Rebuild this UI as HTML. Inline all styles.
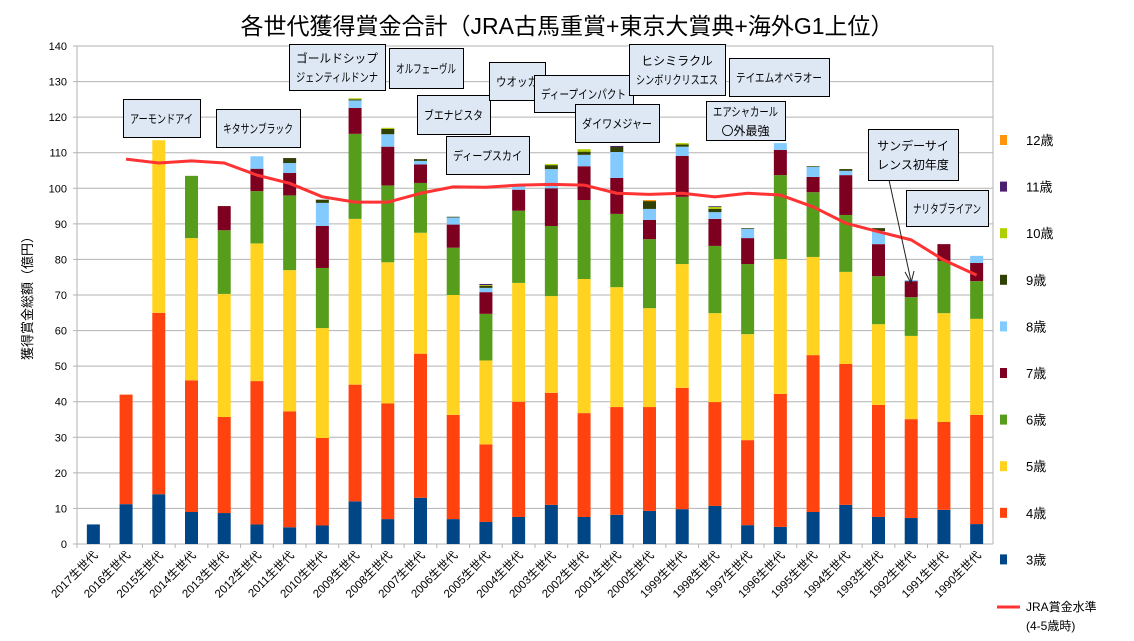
<!DOCTYPE html>
<html><head><meta charset="utf-8">
<style>
body{margin:0;background:#fff;}
svg{display:block;font-family:"Liberation Sans","Noto Sans CJK JP",sans-serif;}
</style></head>
<body>
<svg id="chart" width="1134" height="641" viewBox="0 0 1134 641">
<text x="567" y="34" font-size="23" text-anchor="middle" fill="#000">各世代獲得賞金合計（JRA古馬重賞+東京大賞典+海外G1上位）</text>
<text transform="translate(32,295) rotate(-90)" font-size="13" text-anchor="middle">獲得賞金総額（億円）</text>
<g id="grid"></g><g id="bars"></g><g id="line"></g><g id="xlabels"></g><g id="legend"></g><g id="notes"></g>
</svg>
<script>
const categories=["2017生世代","2016生世代","2015生世代","2014生世代","2013生世代","2012生世代","2011生世代","2010生世代","2009生世代","2008生世代","2007生世代","2006生世代","2005生世代","2004生世代","2003生世代","2002生世代","2001生世代","2000生世代","1999生世代","1998生世代","1997生世代","1996生世代","1995生世代","1994生世代","1993生世代","1992生世代","1991生世代","1990生世代"];
const seriesNames=["3歳","4歳","5歳","6歳","7歳","8歳","9歳","10歳","11歳","12歳"];
const seriesColors=["#004586","#ff420e","#ffd320","#579d1c","#7e0021","#83caff","#314004","#aecf00","#4b1f6f","#ff950e"];
const age3=[5.5,11.2,14,9,8.7,5.5,4.7,5.2,12,7,13,7,6.2,7.6,11,7.6,8.2,9.3,9.8,10.7,5.3,4.8,9,11,7.6,7.3,9.6,5.6];
const age4=[0,30.8,51,37,27,40.3,32.6,24.6,32.8,32.5,40.5,29.3,21.8,32.4,31.5,29.2,30.3,29.2,34.1,29.2,23.9,37.4,44.1,39.6,31.5,27.8,24.7,30.7];
const age5=[0,0,48.5,40,34.6,38.7,39.7,30.9,46.6,39.7,34,33.7,23.6,33.4,27.2,37.7,33.7,27.8,34.8,25,29.8,37.9,27.6,25.9,22.7,23.4,30.6,27];
const age6=[0,0,0,17.5,17.9,14.7,21,16.9,23.9,21.6,14,13.3,13.1,20.3,19.7,22.2,20.6,19.4,18.9,18.9,19.7,23.6,18.2,16,13.5,10.9,14.7,10.6];
const age7=[0,0,0,0,6.8,6.3,6.3,11.8,7.3,10.9,5.2,6.5,6.1,5.9,10.6,9.5,10.1,5.4,11.5,7.6,7.3,7.1,4.3,11.2,9,4.5,4.7,5.1];
const age8=[0,0,0,0,0,3.5,2.8,6.5,2.1,3.5,1,2,1.2,1,5.4,3.2,7.3,3.1,2.6,1.9,2.6,1.9,2.8,1.2,3.7,0.3,0,2];
const age9=[0,0,0,0,0,0,1.4,0.9,0.3,1.5,0.5,0.2,0.6,0.4,1.1,0.9,1.4,2.2,0.6,0.9,0.2,0,0.2,0.5,0.8,0,0,0];
const age10=[0,0,0,0,0,0,0,0,0.3,0.3,0,0,0.2,0,0.3,0.7,0,0,0.4,0.6,0,0,0,0,0,0,0,0];
const age11=[0,0,0,0,0,0,0,0,0,0,0,0,0.3,0,0,0,0.3,0,0,0.2,0,0,0,0,0,0,0,0];
const age12=[0,0,0,0,0,0,0,0,0,0,0,0,0,0,0,0,0,0.3,0,0,0,0,0,0,0,0,0,0];
const jraLevel=[null,108.2,107.1,107.7,107.1,103.7,101.4,97.6,96.1,96.1,98.6,100.4,100.3,100.9,101.1,100.9,98.6,98.3,98.6,97.6,98.6,98.1,94.8,90.2,87.8,85.5,79.8,75.6];
const yTicks=[0,10,20,30,40,50,60,70,80,90,100,110,120,130,140];

const series=[age3,age4,age5,age6,age7,age8,age9,age10,age11,age12];
const NS="http://www.w3.org/2000/svg";
const X0=77,X1=993,Y0=544,Y1=46,YMAX=140;
const step=(X1-X0)/categories.length;
function xPos(i){return X0+step*(i+0.5);}
function yPos(v){return Y0-(v/YMAX)*(Y0-Y1);}
function mk(tag,attrs,parent){const e=document.createElementNS(NS,tag);for(const k in attrs)e.setAttribute(k,attrs[k]);parent.appendChild(e);return e;}
const grid=document.getElementById('grid');
yTicks.forEach(t=>{
  const l=mk('line',{x1:X0-4,x2:X1,y1:yPos(t),y2:yPos(t),stroke:'#b3b3b3','stroke-width':1},grid);
  
  
  const tx=mk('text',{x:X0-10,y:yPos(t)+4,'font-size':11,'text-anchor':'end'},grid);
  tx.textContent=t;
  
  
});
mk('line',{x1:X0,x2:X0,y1:Y1,y2:Y0,stroke:'#b3b3b3'},grid);
mk('line',{x1:X1,x2:X1,y1:Y1,y2:Y0,stroke:'#b3b3b3'},grid);
const bars=document.getElementById('bars');
categories.forEach((c,i)=>{
  let acc=0;
  series.forEach((s,k)=>{
    const v=s[i];if(!v)return;
    const r=mk('rect',{x:xPos(i)-6.5,width:13,y:yPos(acc+v),height:yPos(acc)-yPos(acc+v),fill:seriesColors[k]},bars);
    
    
    acc+=v;
  });
  mk('line',{x1:X0+step*i,x2:X0+step*i,y1:Y0,y2:Y0+4,stroke:'#b3b3b3'},grid);
  const lb=mk('text',{transform:`translate(${xPos(i)+5},${Y0+12}) rotate(-45)`,'font-size':11.5,'text-anchor':'end'},document.getElementById('xlabels'));
  lb.textContent=c;
  
  
});
let d='';jraLevel.forEach((v,i)=>{if(v==null)return;d+=(d?'L':'M')+xPos(i)+','+yPos(v);});
const ln=mk('path',{d:d,fill:'none',stroke:'#ff3333','stroke-width':3,'stroke-linejoin':'round'},document.getElementById('line'));


const lg=document.getElementById('legend');
for(let k=series.length-1;k>=0;k--){
  const y=140+(9-k)*46.6;
  const r=mk('rect',{x:1000,y:y-5,width:7,height:10,fill:seriesColors[k]},lg);
  
  
  const t=mk('text',{x:1026,y:y+5,'font-size':13},lg);
  t.textContent=seriesNames[k];
  
  
}
mk('line',{x1:997,x2:1020,y1:607,y2:607,stroke:'#ff3333','stroke-width':3},lg);
const jt=mk('text',{x:1026,y:611,'font-size':12},lg);jt.textContent='JRA賞金水準';


const jt2=mk('text',{x:1026,y:630,'font-size':12},lg);jt2.textContent='(4-5歳時)';
const notes=[["アーモンドアイ",123,99,77,38],["キタサンブラック",216,109,84,38],["ゴールドシップ|ジェンティルドンナ",289,44,96,46],["オルフェーヴル",389,48,74,40],["ブエナビスタ",417,95,73,39],["ディープスカイ",446,136,83,38],["ウオッカ",489,62,56,38],["ディープインパクト",534,75,99,37],["ダイワメジャー",575,104,84,38],["ヒシミラクル|シンボリクリスエス",629,44,96,51],["テイエムオペラオー",729,58,100,38],["エアシャカール|〇外最強",706,101,79,39],["サンデーサイ|レンス初年度",868,129,90,51],["ナリタブライアン",906,190,82,36]];
const ng=document.getElementById('notes');
mk('line',{x1:889,y1:180,x2:911,y2:281,stroke:'#222','stroke-width':1},ng);
mk('path',{d:'M905,272 L911,283 L914,271',fill:'none',stroke:'#222'},ng);
notes.forEach(n=>{
  const r=mk('rect',{x:n[1]+0.5,y:n[2]+0.5,width:n[3],height:n[4],fill:'#dde8f4',stroke:'#000'},ng);
  
  
  const lines=n[0].split('|');
  lines.forEach((s,j)=>{
    const t=mk('text',{x:n[1]+n[3]/2,y:n[2]+n[4]/2+5+(j-(lines.length-1)/2)*19,'font-size':12,'text-anchor':'middle'},ng);
    t.textContent=s;
    
    
    const maxW=n[3]-14;
    if(t.getComputedTextLength()>maxW){t.setAttribute('textLength',maxW);t.setAttribute('lengthAdjust','spacingAndGlyphs');}
  });
});
</script>
</body></html>
